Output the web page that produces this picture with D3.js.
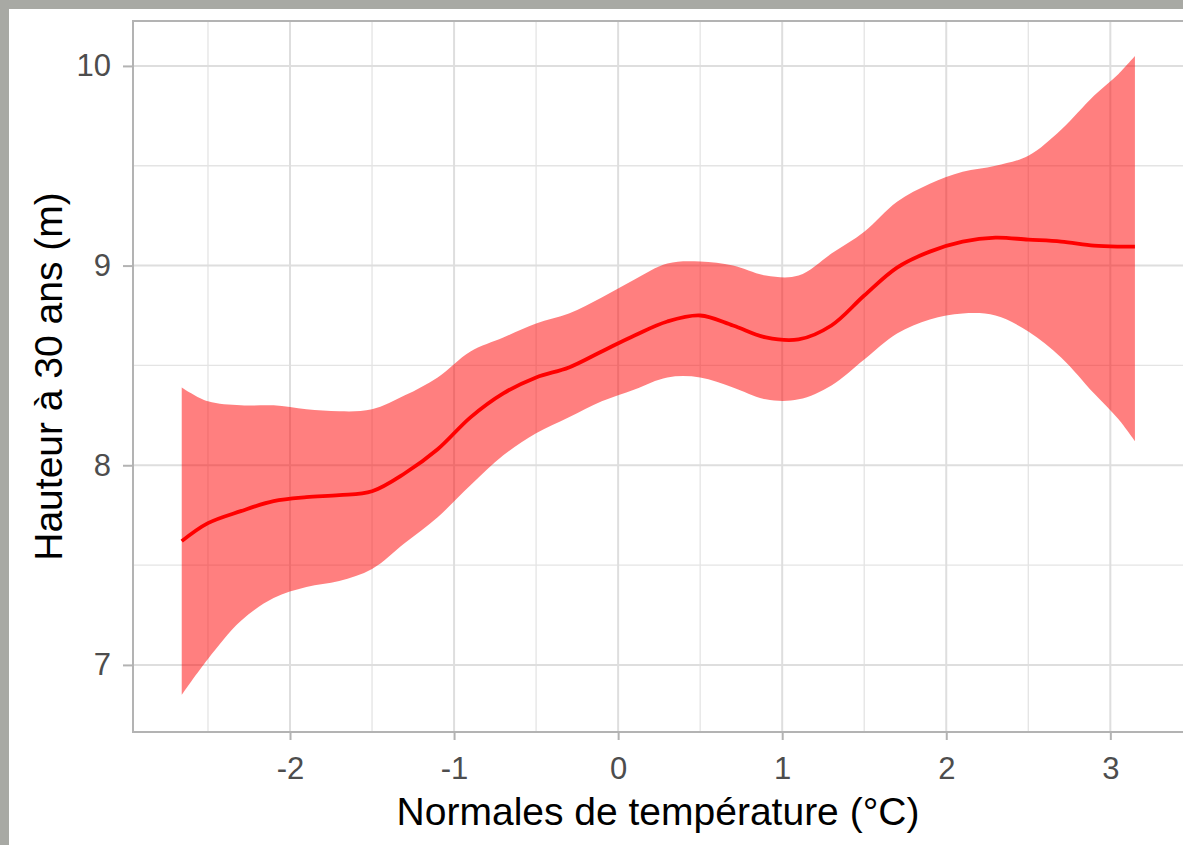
<!DOCTYPE html>
<html>
<head>
<meta charset="utf-8">
<script src="https://cdn.jsdelivr.net/npm/d3@7"></script>
<style>
  html, body { margin: 0; padding: 0; background: #a8a9a4; }
  svg { display: block; }
  text { font-family: "Liberation Sans", Arial, sans-serif; }
</style>
</head>
<body>
<svg id="chart" width="1183" height="845"></svg>
<script>
// ---- data ----
const temp = [-2.66, -2.5, -2.3, -2.1, -1.9, -1.7, -1.5, -1.3, -1.1, -0.9, -0.7, -0.5, -0.3, -0.1,
              0.1, 0.3, 0.5, 0.7, 0.9, 1.1, 1.3, 1.5, 1.7, 1.9, 2.1, 2.3, 2.5, 2.7, 2.9, 3.05, 3.15];
const fit = [7.62, 7.71, 7.77, 7.82, 7.84, 7.85, 7.87, 7.96, 8.08, 8.24, 8.36, 8.44, 8.49, 8.57,
             8.65, 8.72, 8.75, 8.70, 8.64, 8.63, 8.70, 8.85, 8.99, 9.07, 9.12, 9.14, 9.13, 9.12, 9.10, 9.095, 9.095];
const upper = [8.39, 8.32, 8.30, 8.30, 8.28, 8.27, 8.28, 8.35, 8.44, 8.57, 8.64, 8.71, 8.76, 8.84,
               8.93, 9.01, 9.02, 9.00, 8.95, 8.95, 9.06, 9.17, 9.32, 9.41, 9.47, 9.50, 9.55, 9.68, 9.85, 9.96, 10.05];
const lower = [6.85, 7.03, 7.22, 7.335, 7.39, 7.42, 7.48, 7.61, 7.74, 7.90, 8.05, 8.16, 8.24, 8.32,
               8.38, 8.44, 8.44, 8.39, 8.33, 8.33, 8.40, 8.53, 8.66, 8.73, 8.76, 8.75, 8.67, 8.54, 8.36, 8.23, 8.12];

const xTicks = [-2, -1, 0, 1, 2, 3];
const xMinor = [-2.5, -1.5, -0.5, 0.5, 1.5, 2.5];
const yTicks = [7, 8, 9, 10];
const yMinor = [7.5, 8.5, 9.5];
const xTitle = "Normales de température (°C)";
const yTitle = "Hauteur à 30 ans (m)";

// ---- layout ----
const svg = d3.select("#chart");
const P = { left: 133, right: 1183, top: 21, bottom: 732 };

svg.append("rect").attr("x", 9).attr("y", 9).attr("width", 1183).attr("height", 845).attr("fill", "#ffffff");

const x = d3.scaleLinear().domain([-2.957, 3.443]).range([P.left, P.right]);
const y = d3.scaleLinear().domain([6.664, 10.225]).range([P.bottom, P.top]);

const grid = svg.append("g");
grid.selectAll("line.xmin").data(xMinor).join("line")
  .attr("x1", d => x(d)).attr("x2", d => x(d)).attr("y1", P.top).attr("y2", P.bottom)
  .attr("stroke", "#e4e4e4").attr("stroke-width", 1.3);
grid.selectAll("line.ymin").data(yMinor).join("line")
  .attr("y1", d => y(d)).attr("y2", d => y(d)).attr("x1", P.left).attr("x2", P.right)
  .attr("stroke", "#e4e4e4").attr("stroke-width", 1.3);
grid.selectAll("line.xmaj").data(xTicks).join("line")
  .attr("x1", d => x(d)).attr("x2", d => x(d)).attr("y1", P.top).attr("y2", P.bottom)
  .attr("stroke", "#dedede").attr("stroke-width", 2);
grid.selectAll("line.ymaj").data(yTicks).join("line")
  .attr("y1", d => y(d)).attr("y2", d => y(d)).attr("x1", P.left).attr("x2", P.right)
  .attr("stroke", "#dedede").attr("stroke-width", 2);

const pts = temp.map((t, i) => ({ t, f: fit[i], lo: lower[i], hi: upper[i] }));

const curve = d3.curveCatmullRom.alpha(0.5);
const area = d3.area().x(d => x(d.t)).y0(d => y(d.lo)).y1(d => y(d.hi)).curve(curve);
svg.append("path").datum(pts).attr("d", area).attr("fill", "#ff0000").attr("fill-opacity", 0.5);

const line = d3.line().x(d => x(d.t)).y(d => y(d.f)).curve(curve);
svg.append("path").datum(pts).attr("d", line).attr("fill", "none")
  .attr("stroke", "#ff0000").attr("stroke-width", 3.8);

// panel border
svg.append("rect").attr("x", P.left).attr("y", P.top)
  .attr("width", P.right - P.left + 4).attr("height", P.bottom - P.top)
  .attr("fill", "none").attr("stroke", "#b3b3b3").attr("stroke-width", 2);

// axes
const fmt = d => String(d);
const xAxis = svg.append("g").attr("transform", `translate(0,${P.bottom})`)
  .call(d3.axisBottom(x).tickValues(xTicks).tickSize(8).tickPadding(17).tickFormat(fmt));
const yAxis = svg.append("g").attr("transform", `translate(${P.left},0)`)
  .call(d3.axisLeft(y).tickValues(yTicks).tickSize(10).tickPadding(12).tickFormat(fmt));
[xAxis, yAxis].forEach(a => {
  a.select(".domain").remove();
  a.selectAll(".tick line").attr("stroke", "#b3b3b3").attr("stroke-width", 2);
  a.selectAll(".tick text").attr("fill", "#4d4d4d").style("font-size", "31px")
    .style("font-family", "'Liberation Sans', Arial, sans-serif");
});

svg.append("text").attr("x", (P.left + P.right) / 2).attr("y", 825)
  .attr("text-anchor", "middle").attr("fill", "#000").style("font-size", "39px").text(xTitle);
svg.append("text").attr("transform", `translate(62,${(P.top + P.bottom) / 2}) rotate(-90)`)
  .attr("text-anchor", "middle").attr("fill", "#000").style("font-size", "39px").text(yTitle);
</script>
</body>
</html>
